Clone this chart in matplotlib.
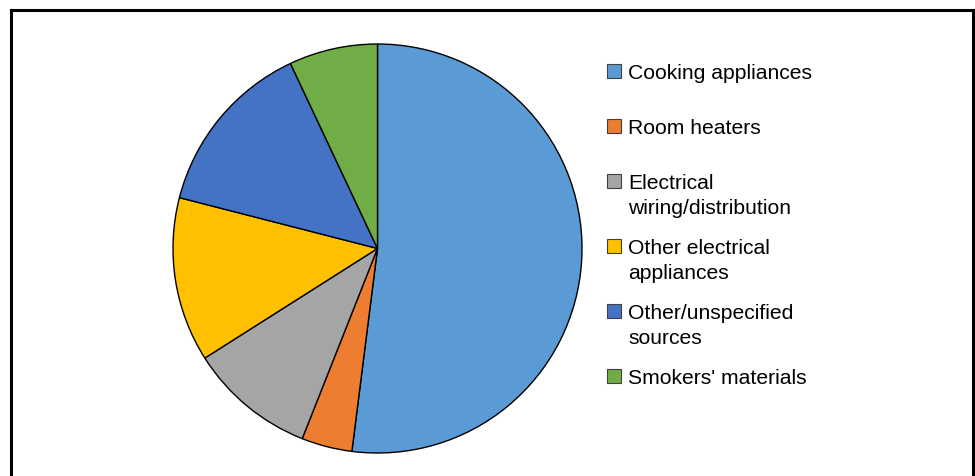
import textwrap
import matplotlib
matplotlib.use("Agg")
import matplotlib.pyplot as plt
from matplotlib.lines import Line2D
from matplotlib.patches import Rectangle

categories = ["Cooking appliances", "Room heaters", "Electrical wiring/distribution",
              "Other electrical appliances", "Other/unspecified sources", "Smokers' materials"]
shares = [52, 4, 10, 13, 14, 7]
colors = ["#5B9BD5", "#ED7D31", "#A5A5A5", "#FFC000", "#4472C4", "#70AD47"]

W, H = 975, 477
fig = plt.figure(figsize=(W / 100, H / 100), dpi=100)
fig.patch.set_facecolor("white")

def fx(px):
    return px / W

def fy(py):
    return 1 - py / H

# pie axes placed in pixel units
cx, cy, r = 377.5, 249.5, 204.5
ax = fig.add_axes([fx(cx - r), fy(cy + r), 2 * r / W, 2 * r / H])
ax.pie(shares, colors=colors, startangle=90, counterclock=False, radius=1,
       wedgeprops=dict(edgecolor="black", linewidth=1.0))
ax.set_xlim(-1, 1)
ax.set_ylim(-1, 1)
ax.axis("off")

# legend (manual, Excel-like spacing)
first_line_y = [72, 127, 182, 247, 312, 377]
line_h = 25
sq = 14
for lab, col, y0 in zip(categories, colors, first_line_y):
    text = textwrap.fill(lab, width=18, break_long_words=False)
    nlines = text.count("\n") + 1
    fig.patches.append(Rectangle((fx(607), fy(y0 + sq / 2)), sq / W, sq / H,
                                 transform=fig.transFigure, facecolor=col,
                                 edgecolor="#404040", linewidth=0.8))
    ymid = y0 + (nlines - 1) * line_h / 2 + 1.5
    fig.text(fx(628), fy(ymid), text, fontsize=15.2, family="Liberation Sans",
             va="center", ha="left", linespacing=1.36, color="black")

# outer frame (top, left, right; bottom cut off)
lw = 2.2
for xs, ys in [([11, 11], [477, 11]), ([11, 973], [11, 11]), ([973, 973], [11, 477])]:
    fig.lines.append(Line2D([fx(x) for x in xs], [fy(y) for y in ys],
                            transform=fig.transFigure, color="black",
                            linewidth=lw, solid_capstyle="projecting"))

fig.savefig("out.png", dpi=100)
